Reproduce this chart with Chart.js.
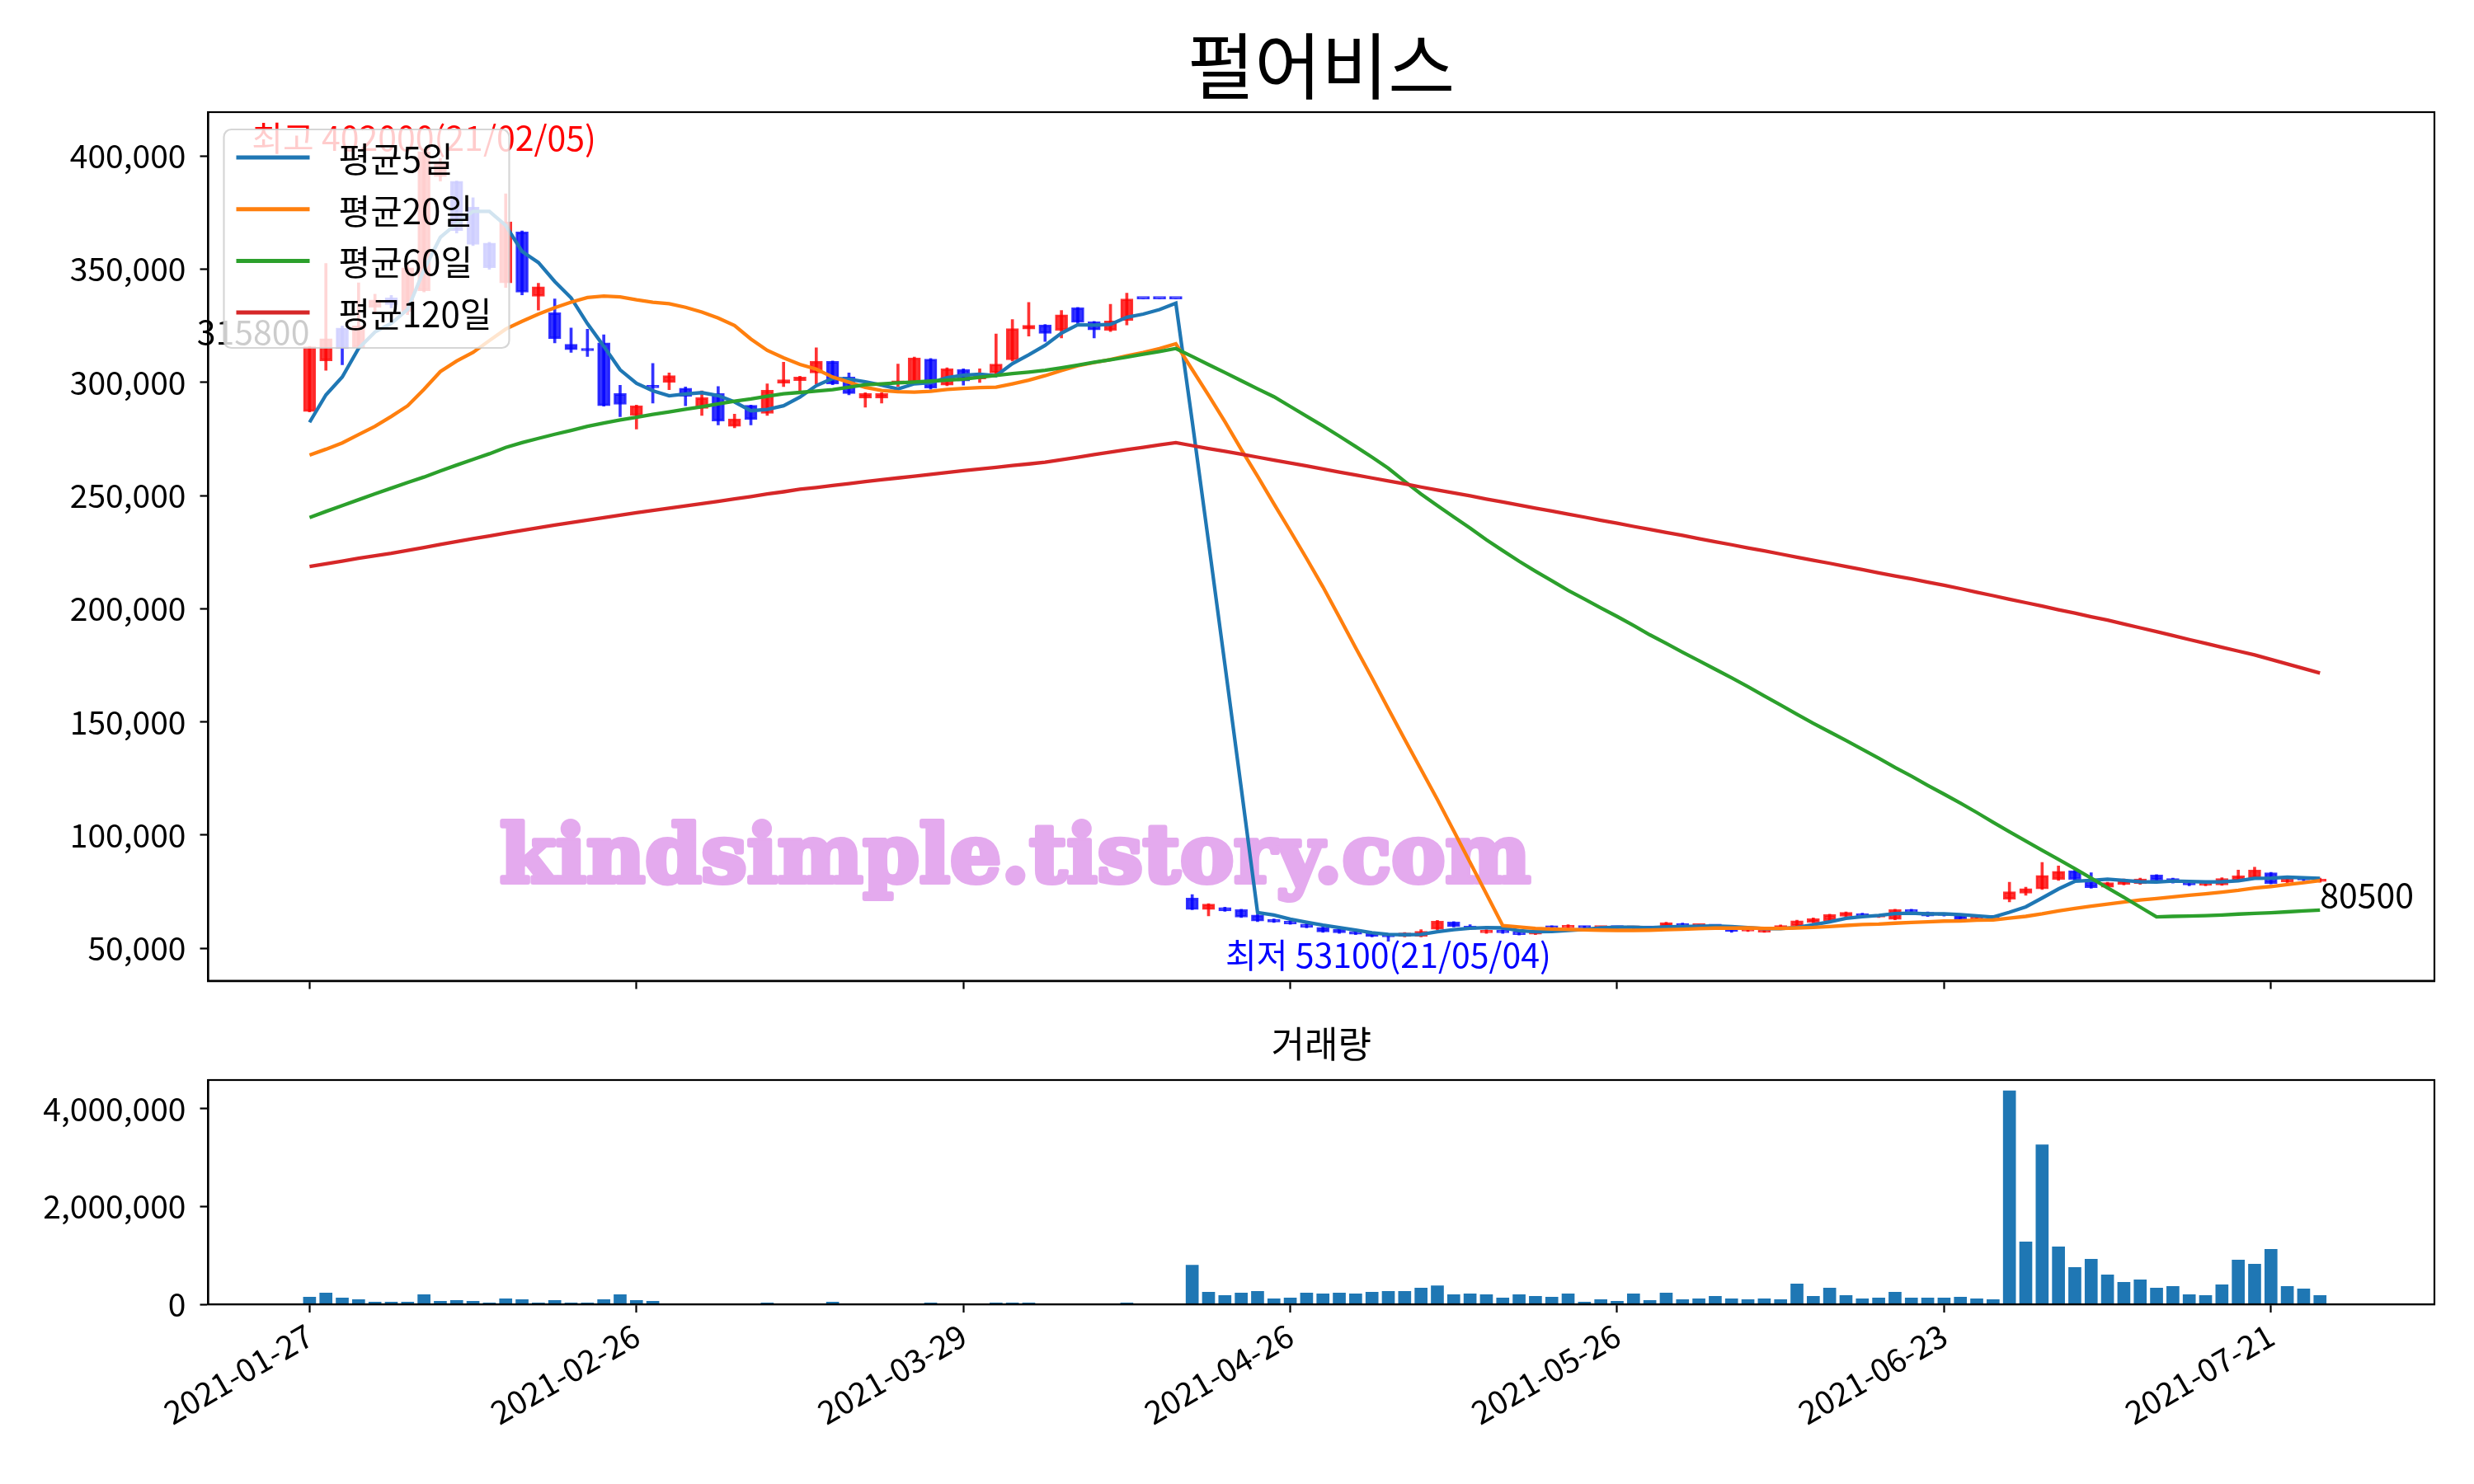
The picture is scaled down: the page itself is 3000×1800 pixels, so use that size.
<!DOCTYPE html>
<html>
<head>
<meta charset="utf-8">
<script src="https://cdn.jsdelivr.net/npm/chart.js@4"></script>
<style>
body { margin: 0; background: #fff; }
#wrap { position: relative; width: 3000px; height: 1800px; }
canvas { position: absolute; left: 0; }
</style>
</head>
<body>
<div id="wrap">
<canvas id="priceChart" width="3000" height="1230" style="top:0"></canvas>
<canvas id="volumeChart" width="3000" height="570" style="top:1230px"></canvas>
</div>
<script>
// trading days (2021)
const dates = ['01-27','01-28','01-29','02-01','02-02','02-03','02-04','02-05','02-08','02-09',
  '02-10','02-15','02-16','02-17','02-18','02-19','02-22','02-23','02-24','02-25',
  '02-26','03-02','03-03','03-04','03-05','03-08','03-09','03-10','03-11','03-12',
  '03-15','03-16','03-17','03-18','03-19','03-22','03-23','03-24','03-25','03-26',
  '03-29','03-30','03-31','04-01','04-02','04-05','04-06','04-07','04-08','04-09',
  '04-12','04-13','04-14','04-15','04-16','04-19','04-20','04-21','04-22','04-23',
  '04-26','04-27','04-28','04-29','04-30','05-03','05-04','05-06','05-07','05-10',
  '05-11','05-12','05-13','05-14','05-17','05-18','05-20','05-21','05-24','05-25',
  '05-26','05-27','05-28','05-31','06-01','06-02','06-03','06-04','06-07','06-08',
  '06-09','06-10','06-11','06-14','06-15','06-16','06-17','06-18','06-21','06-22',
  '06-23','06-24','06-25','06-28','06-29','06-30','07-01','07-02','07-05','07-06',
  '07-07','07-08','07-09','07-12','07-13','07-14','07-15','07-16','07-19','07-20',
  '07-21','07-22','07-23','07-26'];

const open = [287200,309600,324100,315500,333200,337400,331400,340500,391000,388900,
  377400,361600,344000,366500,338100,330800,316900,314800,317500,295100,
  285400,298800,300000,297500,288500,295100,280600,289900,286300,299600,
  300800,304200,309300,302400,293100,293100,299400,300000,310300,298800,
  305700,301500,304200,310000,323600,325400,323000,333000,326800,323000,
  327400,336900,336900,336900,72200,67100,68000,67100,64700,62800,
  62000,60700,59200,58400,57400,56800,56200,55200,55300,58400,
  61600,59800,56800,58000,57200,56200,59800,59000,59600,59000,
  59300,58900,59200,59600,61000,59800,60200,59500,57600,57100,
  58600,59800,61400,62200,64100,65300,63800,62800,67100,65900,
  65200,64700,62800,64200,71700,74300,76200,80400,84300,80400,
  77000,78200,78500,82400,80800,79300,77800,78000,79800,81000,
  83400,79300,80800,79500];

const high = [316000,352600,325000,344000,339000,338500,352000,402000,399000,389000,
  381600,362000,383400,367000,343800,336900,324100,323500,321100,298800,
  290000,308400,304200,298000,296300,298200,286000,290000,299400,309000,
  302800,315300,309500,304200,295500,295500,308100,311200,310600,306500,
  306000,306000,321400,327800,335400,325600,331800,333200,327000,334500,
  339500,336900,336900,336900,73700,69700,68200,67300,64900,63000,
  62200,60900,59400,58600,57600,57000,56400,57000,58200,62300,
  61800,60400,58200,58200,57400,57600,60000,60400,59800,59600,
  59500,59300,59400,61500,61200,60400,60400,59700,58800,58300,
  60300,62400,63400,65100,66100,65500,64700,67300,67300,66100,
  65400,64900,64300,64400,79200,77000,87900,86400,84500,83400,
  79200,80600,81000,82600,81000,79500,79400,81200,84600,85800,
  83600,81200,81300,81000];

const low = [287000,305400,307800,315000,331000,333000,330000,340000,389000,366000,
  360500,350000,342000,338700,332000,317500,313300,311500,289500,284900,
  279400,290900,296800,289700,285400,281200,280000,281200,285400,298200,
  295700,299400,299000,294500,289100,290900,298200,299800,297000,298500,
  298800,300000,303500,309500,320500,318100,319700,326000,319700,322500,
  325400,336900,336900,336900,67000,64300,66300,63600,61800,61400,
  60600,59000,57000,56600,56000,55000,53100,55000,55000,58200,
  59400,58200,56600,56600,55800,56000,58800,58800,58800,58600,
  58700,58500,58600,59400,59600,59400,59400,57000,57400,57000,
  58400,59600,61200,62000,63900,63900,63600,62600,65700,64000,
  64200,62600,62600,63000,70500,73400,76000,80000,80000,76500,
  76600,78000,78200,80000,78800,77600,77600,77800,79600,80800,
  78400,79000,79800,79200];

const close = [315800,319300,315100,325000,336500,334400,350700,402000,397000,367100,
  361000,350700,371000,339900,342300,319300,314500,314000,289700,290300,
  289700,297600,303000,293900,293300,283000,283900,283600,296600,301200,
  302400,309400,299400,295100,295100,295100,300800,310900,297500,306000,
  300600,303000,308100,323800,325300,321700,329900,326600,323200,327200,
  336900,336900,336900,336900,67100,69500,66500,63800,62000,61600,
  60800,59200,57200,56800,56200,55200,55000,56800,57500,62000,
  59600,58400,58000,56800,56000,57400,58900,60200,59000,59300,
  59000,59100,58800,61300,59800,60100,59600,57400,58500,58000,
  60100,62200,63100,64900,65900,64100,64500,67100,65900,64200,
  64500,62800,64000,63400,75000,76400,82200,84000,80400,76800,
  79000,80000,80600,80100,79000,78000,79000,80800,82000,84600,
  78600,80800,80200,80500];

const ma5 = [282400,294500,302400,315100,322300,326100,332300,349700,364100,370200,
  375600,375600,369400,357900,353000,344600,337400,326000,316000,305600,
  299600,296300,294100,294900,295500,294200,291400,287500,288100,289700,
  293500,298600,301800,301500,300300,298800,297100,299400,299900,302100,
  303200,303600,303000,308300,312200,316400,321800,325500,325300,325700,
  328800,330200,332200,335000,282900,229500,175400,120800,65800,64700,
  62900,61500,60200,59100,58000,56900,56100,56000,56100,57300,
  58200,58900,59100,59000,57800,57300,57400,57900,58300,59000,
  59300,59300,59000,59500,59600,59800,59900,59600,59100,58700,
  58700,59200,60400,61700,63200,64000,64500,65300,65500,65200,
  65200,64900,64300,63800,65900,68300,72200,76200,79600,80000,
  80500,80000,79400,79300,79700,79500,79300,79400,79800,80900,
  81000,81400,81200,80900];

const ma20 = [267900,270500,273300,277000,280600,285000,289700,297000,304800,309500,
  313300,318500,323600,327000,330200,333000,335500,337500,338200,337800,
  336500,335400,334800,333200,331100,328500,325200,319200,314200,310900,
  308000,305900,302400,300100,297800,296500,295900,295700,296100,296900,
  297400,297700,297900,299400,301000,303000,305300,307400,308800,310100,
  311800,313200,315000,317100,305700,294400,282700,270400,258600,246400,
  234400,222200,209700,196300,182800,169500,155800,142300,129000,115700,
  101900,88000,74000,60000,59400,58800,58500,58300,58100,58000,
  57900,57900,58000,58200,58400,58700,58900,58900,59000,58800,
  58800,59000,59200,59600,60100,60500,60700,61100,61400,61700,
  62000,62100,62400,62500,63300,64100,65200,66500,67600,68600,
  69500,70400,71300,72000,72700,73400,74100,74800,75600,76600,
  77300,78200,79000,79900];

const ma60 = [240300,243000,245600,248200,250800,253300,255800,258200,260900,263500,
  266000,268500,271300,273400,275300,277100,278800,280600,282100,283400,
  284600,285900,287000,288200,289300,290500,291700,292700,293900,295000,
  295600,296200,296800,297900,299000,299400,299800,300200,300600,301000,
  301500,302300,303100,303900,304600,305400,306500,307700,308900,310000,
  311200,312500,313700,315000,311500,307900,304400,300800,297200,293700,
  289400,285100,280800,276300,271700,267000,262100,256300,250700,245600,
  240600,235700,230500,225700,221000,216600,212400,208100,204300,200400,
  196600,192600,188500,184700,180800,177100,173300,169500,165600,161500,
  157500,153400,149400,145600,141800,137900,134000,129900,126100,122000,
  118100,114100,110000,105700,101500,97400,93300,89300,85200,81000,
  76700,72500,68200,63900,64100,64200,64400,64700,65100,65400,
  65700,66100,66500,66900];

const ma120 = [218700,219900,221100,222300,223400,224500,225800,227100,228400,229700,
  231000,232200,233400,234600,235800,237000,238100,239200,240300,241400,
  242500,243500,244500,245500,246500,247500,248600,249600,250700,251700,
  252800,253600,254500,255300,256200,257000,257800,258600,259400,260200,
  261000,261800,262500,263300,264000,264800,265900,267000,268100,269200,
  270300,271300,272400,273400,272100,270800,269600,268300,267000,265700,
  264400,263100,261800,260400,259100,257800,256500,255200,253800,252500,
  251200,249900,248500,247200,245800,244500,243200,241800,240500,239100,
  237800,236400,235100,233700,232400,231000,229600,228300,226900,225600,
  224200,222800,221400,220100,218700,217300,215900,214500,213200,211800,
  210400,208900,207300,205800,204200,202700,201200,199600,198100,196500,
  195000,193300,191600,189900,188200,186400,184700,183000,181300,179600,
  177600,175600,173600,171600];

const volume = [146000,230000,130000,96000,45000,45000,45000,197000,62000,79000,
  62000,28000,112000,96000,28000,79000,28000,28000,96000,197000,
  79000,62000,11000,11000,11000,11000,11000,5000,28000,11000,
  5000,11000,45000,5000,5000,5000,11000,5000,28000,5000,
  5000,5000,28000,28000,28000,5000,5000,5000,5000,11000,
  28000,0,0,0,800000,247000,180000,230000,264000,112000,
  130000,230000,214000,230000,214000,247000,264000,264000,330000,380000,
  197000,214000,197000,130000,197000,163000,146000,214000,45000,96000,
  62000,214000,79000,230000,96000,112000,163000,112000,96000,112000,
  96000,416000,163000,330000,180000,112000,130000,247000,130000,130000,
  130000,146000,112000,96000,4370000,1276000,3266000,1175000,753000,922000,
  600000,450000,500000,330000,365000,197000,180000,400000,905000,820000,
  1124000,365000,315000,180000];

const maNames = ['평균5일', '평균20일', '평균60일', '평균120일'];
const maColors = ['#1f77b4', '#ff7f0e', '#2ca02c', '#d62728'];
const xTicks = [0, 20, 40, 60, 80, 100, 120];
const priceTicks = [50000, 100000, 150000, 200000, 250000, 300000, 350000, 400000];
const volumeTicks = [0, 2000000, 4000000];

const KFONT = '"Noto Sans CJK KR", "Noto Sans", sans-serif';
const TICK_SIZE = 39;
Chart.defaults.font.family = KFONT;
Chart.defaults.color = '#000';
Chart.defaults.animation = false;

const RED = 'rgba(255,0,0,0.8)';
const BLUE = 'rgba(0,0,255,0.8)';
const idx = dates.map((d, i) => i);
const candleColor = c => close[c.dataIndex] > open[c.dataIndex] ? RED : BLUE;
const fmt = v => Number(v).toLocaleString('en-US');

const hiIdx = high.indexOf(Math.max(...high));
const loIdx = low.indexOf(Math.min(...low));
const shortDate = i => '21/' + dates[i].replace('-', '/');

function axisX(showLabels) {
    return {
        type: 'linear', min: -6.2, max: 130, offset: false,
        afterBuildTicks: s => { s.ticks = xTicks.map(v => ({value: v})); },
        ticks: {
            display: showLabels, font: {size: TICK_SIZE}, color: '#000', padding: 4,
            minRotation: 30, maxRotation: 30,
            callback: v => '2021-' + dates[v]
        },
        grid: {offset: false, drawOnChartArea: false, drawTicks: true, tickLength: 10, tickWidth: 2.2, tickColor: '#000'},
        border: {color: '#000', width: 2.2}
    };
}

function axisY(min, max, values) {
    return {
        min: min, max: max,
        afterBuildTicks: s => { s.ticks = values.map(v => ({value: v})); },
        ticks: {callback: fmt, font: {size: TICK_SIZE}, color: '#000', padding: 17},
        grid: {drawOnChartArea: false, tickLength: 10, tickWidth: 2.2, tickColor: '#000'},
        border: {color: '#000', width: 2.2},
        afterFit: s => { s.width = 252.5; }
    };
}

function drawFrame(chart) {
    const a = chart.chartArea, c = chart.ctx;
    c.save();
    c.strokeStyle = '#000';
    c.lineWidth = 2.2;
    c.strokeRect(a.left, a.top, a.right - a.left, a.bottom - a.top);
    c.restore();
}

const priceDecor = {
    id: 'priceDecor',
    beforeDatasetsDraw(chart) {
        // watermark (heavy serif look)
        const c = chart.ctx;
        const text = 'kindsimple.tistory.com';
        c.save();
        c.font = 'bold 98px "DejaVu Serif"';
        const w = c.measureText(text).width;
        c.translate(606, 1070);
        c.scale(1250 / w, 1);
        c.fillStyle = 'rgb(228,170,238)';
        c.strokeStyle = 'rgb(228,170,238)';
        c.lineWidth = 6;
        c.lineJoin = 'round';
        c.textBaseline = 'alphabetic';
        c.strokeText(text, 0, 0);
        c.fillText(text, 0, 0);
        c.restore();
    },
    afterDatasetsDraw(chart) {
        drawFrame(chart);
        const c = chart.ctx, x = chart.scales.x, y = chart.scales.y;
        c.save();
        c.font = '41px ' + KFONT;
        c.fillStyle = '#ff0000';
        c.textAlign = 'center';
        c.textBaseline = 'bottom';
        c.fillText('최고 ' + high[hiIdx] + '(' + shortDate(hiIdx) + ')', x.getPixelForValue(hiIdx), y.getPixelForValue(high[hiIdx]) + 4);
        c.fillStyle = '#0000ff';
        c.textBaseline = 'top';
        c.fillText('최저 ' + low[loIdx] + '(' + shortDate(loIdx) + ')', x.getPixelForValue(loIdx), y.getPixelForValue(low[loIdx]) - 4);
        c.fillStyle = '#000';
        c.textAlign = 'right';
        c.textBaseline = 'bottom';
        c.fillText(String(close[0]), x.getPixelForValue(0), y.getPixelForValue(close[0]) + 2);
        const last = close.length - 1;
        c.textAlign = 'left';
        c.textBaseline = 'top';
        c.fillText(String(close[last]), x.getPixelForValue(last), y.getPixelForValue(close[last]) - 2);
        c.restore();
    },
    afterDraw(chart) {
        const c = chart.ctx, a = chart.chartArea;
        c.save();
        // title
        c.font = '88px ' + KFONT;
        c.fillStyle = '#000';
        c.textAlign = 'center';
        c.textBaseline = 'middle';
        c.fillText('펄어비스', (a.left + a.right) / 2, 80);
        // legend box
        const bx = a.left + 19, by = a.top + 21, bw = 346, bh = 265, r = 9;
        c.beginPath();
        c.roundRect(bx, by, bw, bh, r);
        c.fillStyle = 'rgba(255,255,255,0.8)';
        c.fill();
        c.strokeStyle = 'rgba(204,204,204,0.8)';
        c.lineWidth = 2.2;
        c.stroke();
        c.font = '42px ' + KFONT;
        c.textAlign = 'left';
        c.textBaseline = 'middle';
        maNames.forEach((name, k) => {
            const ry = by + 34 + k * 62.7;
            c.strokeStyle = maColors[k];
            c.lineWidth = 5;
            c.beginPath();
            c.moveTo(bx + 15, ry);
            c.lineTo(bx + 104, ry);
            c.stroke();
            c.fillStyle = '#000';
            c.fillText(name, bx + 139, ry + 2);
        });
        c.restore();
    }
};

const maSets = [ma5, ma20, ma60, ma120].map((arr, k) => ({
    type: 'line',
    label: maNames[k],
    data: idx.map(i => ({x: i, y: arr[i]})),
    borderColor: maColors[k],
    borderWidth: 4.3,
    pointRadius: 0,
    tension: 0,
    order: 4 - k
}));

let priceCtx = document.getElementById('priceChart').getContext('2d');
let priceChart = new Chart(priceCtx, {
    type: 'bar',
    data: {
        datasets: maSets.concat([
            {
                type: 'bar', label: 'body',
                data: idx.map(i => ({x: i, y: [open[i], close[i]]})),
                backgroundColor: candleColor,
                borderColor: candleColor,
                borderWidth: 2,
                borderSkipped: false,
                barThickness: 15,
                minBarLength: 3,
                grouped: false,
                order: 5
            },
            {
                type: 'bar', label: 'wick',
                data: idx.map(i => ({x: i, y: [low[i], high[i]]})),
                backgroundColor: candleColor,
                borderWidth: 0,
                barThickness: 3,
                grouped: false,
                order: 6
            }
        ])
    },
    options: {
        responsive: false,
        devicePixelRatio: 1,
        events: [],
        layout: {padding: {left: 0, right: 48, top: 136, bottom: 0}},
        plugins: {legend: {display: false}, title: {display: false}, tooltip: {enabled: false}},
        scales: {
            x: Object.assign(axisX(false), {afterFit: s => { s.height = 38; }}),
            y: axisY(35650, 419450, priceTicks)
        }
    },
    plugins: [priceDecor]
});

const volumeDecor = {
    id: 'volumeDecor',
    afterDatasetsDraw(chart) { drawFrame(chart); },
    afterDraw(chart) {
        const c = chart.ctx, a = chart.chartArea;
        c.save();
        c.font = '44px ' + KFONT;
        c.fillStyle = '#000';
        c.textAlign = 'center';
        c.textBaseline = 'middle';
        c.fillText('거래량', (a.left + a.right) / 2, 36);
        c.restore();
    }
};

let volumeCtx = document.getElementById('volumeChart').getContext('2d');
let volumeChart = new Chart(volumeCtx, {
    type: 'bar',
    data: {
        datasets: [{
            label: '거래량',
            data: idx.map(i => ({x: i, y: volume[i]})),
            backgroundColor: '#1f77b4',
            barThickness: 15,
            grouped: false
        }]
    },
    options: {
        responsive: false,
        devicePixelRatio: 1,
        events: [],
        layout: {padding: {left: 0, right: 48, top: 80, bottom: 0}},
        plugins: {legend: {display: false}, title: {display: false}, tooltip: {enabled: false}},
        scales: {
            x: Object.assign(axisX(true), {afterFit: s => { s.height = 218; }}),
            y: axisY(0, 4590000, volumeTicks)
        }
    },
    plugins: [volumeDecor]
});
</script>
</body>
</html>
